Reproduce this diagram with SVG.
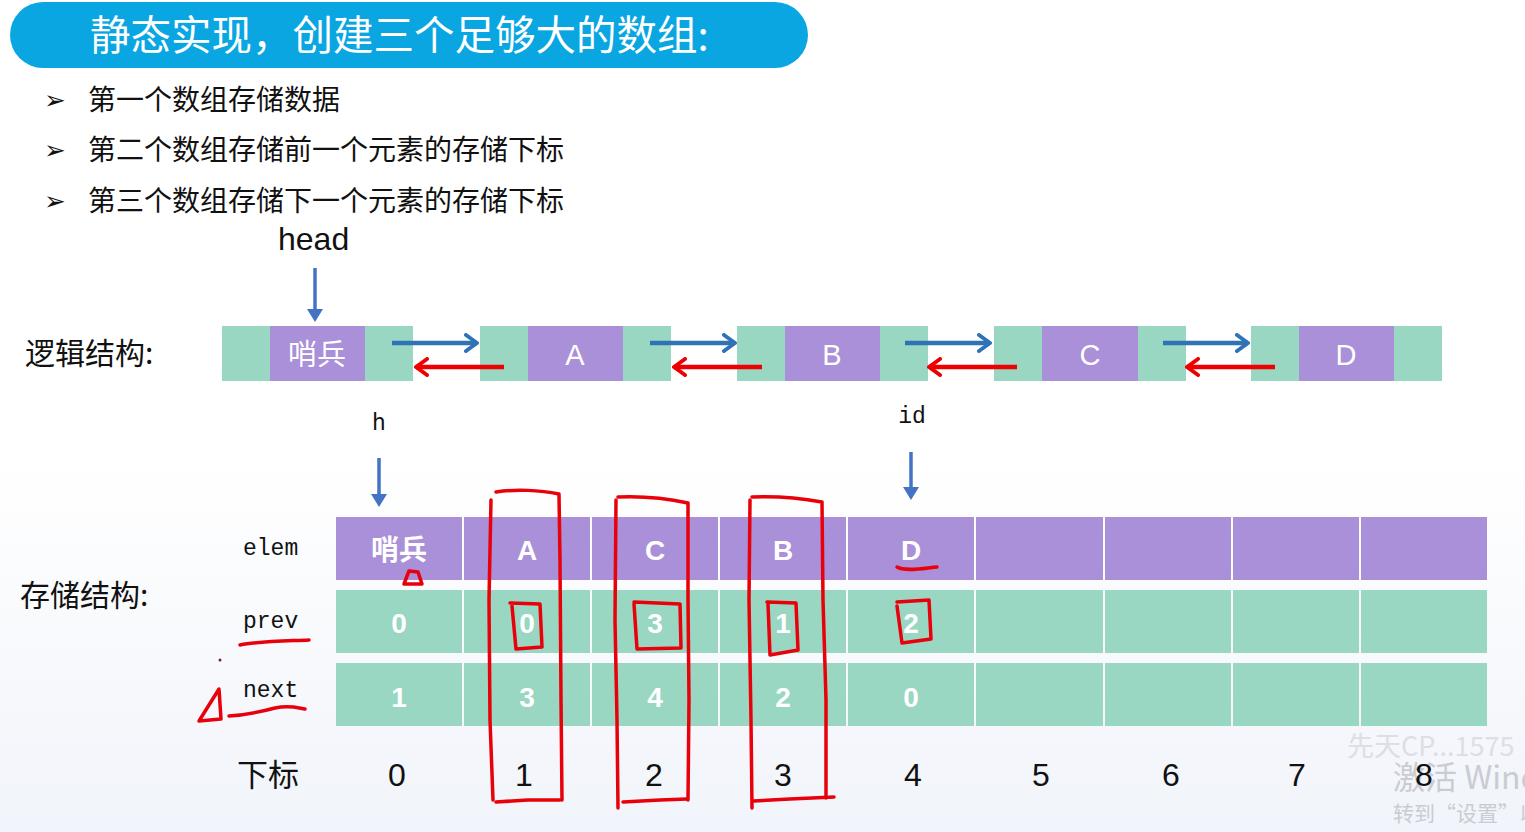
<svg xmlns="http://www.w3.org/2000/svg" width="1525" height="832" viewBox="0 0 1525 832">
<defs>
<linearGradient id="bg" x1="0" y1="0" x2="0" y2="1">
<stop offset="0" stop-color="#ffffff"/>
<stop offset="0.55" stop-color="#ffffff"/>
<stop offset="1" stop-color="#f1f4fa"/>
</linearGradient>
<marker id="chevB" viewBox="0 0 16 20" refX="14" refY="10" markerWidth="16" markerHeight="20" markerUnits="userSpaceOnUse" orient="auto">
<path d="M3,2 L14,10 L3,18" fill="none" stroke="#2f72b6" stroke-width="4" stroke-linecap="round" stroke-linejoin="round"/>
</marker>
<marker id="chevR" viewBox="0 0 16 20" refX="14" refY="10" markerWidth="16" markerHeight="20" markerUnits="userSpaceOnUse" orient="auto">
<path d="M3,2 L14,10 L3,18" fill="none" stroke="#ee0000" stroke-width="4" stroke-linecap="round" stroke-linejoin="round"/>
</marker>
</defs>
<style>
.cjk{font-family:"Noto Sans CJK SC","Noto Sans",sans-serif;}
.lat{font-family:"Liberation Sans",Arial,sans-serif;}
.mono{font-family:"Liberation Mono","DejaVu Sans Mono",monospace;font-size:23px;fill:#111;}
.pur{fill:#a990d8;}
.grn{fill:#9ad7c3;}
.wt{fill:#ffffff;text-anchor:middle;}
.cell{font-family:"Liberation Sans","Noto Sans CJK SC",sans-serif;font-weight:bold;font-size:28px;fill:#fff;text-anchor:middle;}
.idx{font-family:"Liberation Sans",Arial,sans-serif;font-size:32px;fill:#111;text-anchor:middle;}
.ab{stroke:#2f72b6;stroke-width:4.5;fill:none;marker-end:url(#chevB);}
.ar{stroke:#ee0000;stroke-width:4.5;fill:none;marker-end:url(#chevR);}
.down{stroke:#4472c4;stroke-width:3.5;fill:none;}
.pen{stroke:#e8000b;stroke-width:3.5;fill:none;stroke-linecap:round;stroke-linejoin:round;}
.wm{fill:#c9ccd3;}
.bul{font-family:"DejaVu Sans",sans-serif;font-size:26px;fill:#111;}
</style>
<rect x="0" y="0" width="1525" height="832" fill="url(#bg)"/>

<g id="title">
<rect x="10" y="2" width="798" height="66" rx="33" fill="#0aa6e2"/>
<text x="90" y="50" class="cjk" font-size="40.5" fill="#ffffff">静态实现，创建三个足够大的数组:</text>
</g>

<g id="bullets" class="cjk" font-size="28" fill="#111">
<text x="44" y="109" class="bul">➢</text>
<text x="88" y="110">第一个数组存储数据</text>
<text x="44" y="159" class="bul">➢</text>
<text x="88" y="160">第二个数组存储前一个元素的存储下标</text>
<text x="44" y="210" class="bul">➢</text>
<text x="88" y="211">第三个数组存储下一个元素的存储下标</text>
</g>

<g id="labels">
<text x="278" y="250" class="lat" font-size="32" fill="#111">head</text>
<text x="25" y="364" class="cjk" font-size="30" fill="#111">逻辑结构:</text>
<text x="20" y="606" class="cjk" font-size="30" fill="#111">存储结构:</text>
<text x="379" y="430" class="mono" text-anchor="middle">h</text>
<text x="912" y="423" class="mono" text-anchor="middle">id</text>
<text x="243" y="555" class="mono">elem</text>
<text x="243" y="628" class="mono">prev</text>
<text x="243" y="697" class="mono">next</text>
<text x="237" y="786" class="cjk" font-size="31" fill="#111">下标</text>
</g>

<g id="lnode-sentinel">
<rect x="222" y="326" width="48" height="55" class="grn"/>
<rect x="270" y="326" width="95" height="55" class="pur"/>
<rect x="365" y="326" width="48" height="55" class="grn"/>
<text x="317" y="365" class="cjk wt" font-size="29">哨兵</text>
</g>
<g id="lnode-A">
<rect x="480" y="326" width="48" height="55" class="grn"/>
<rect x="528" y="326" width="95" height="55" class="pur"/>
<rect x="623" y="326" width="48" height="55" class="grn"/>
<text x="575" y="365" class="lat wt" font-size="29">A</text>
</g>
<g id="lnode-B">
<rect x="737" y="326" width="48" height="55" class="grn"/>
<rect x="785" y="326" width="95" height="55" class="pur"/>
<rect x="880" y="326" width="48" height="55" class="grn"/>
<text x="832" y="365" class="lat wt" font-size="29">B</text>
</g>
<g id="lnode-C">
<rect x="994" y="326" width="48" height="55" class="grn"/>
<rect x="1042" y="326" width="96" height="55" class="pur"/>
<rect x="1138" y="326" width="48" height="55" class="grn"/>
<text x="1090" y="365" class="lat wt" font-size="29">C</text>
</g>
<g id="lnode-D">
<rect x="1251" y="326" width="48" height="55" class="grn"/>
<rect x="1299" y="326" width="95" height="55" class="pur"/>
<rect x="1394" y="326" width="48" height="55" class="grn"/>
<text x="1346" y="365" class="lat wt" font-size="29">D</text>
</g>

<g id="storage">
<g id="col0">
<rect x="336" y="517" width="126" height="63" class="pur"/>
<rect x="336" y="590" width="126" height="63" class="grn"/>
<rect x="336" y="663" width="126" height="63" class="grn"/>
<text x="399" y="560" class="cell" font-family="Noto Sans CJK SC">哨兵</text>
<text x="399" y="633" class="cell">0</text>
<text x="399" y="707" class="cell">1</text>
</g>
<g id="col1">
<rect x="464" y="517" width="126" height="63" class="pur"/>
<rect x="464" y="590" width="126" height="63" class="grn"/>
<rect x="464" y="663" width="126" height="63" class="grn"/>
<text x="527" y="560" class="cell">A</text>
<text x="527" y="633" class="cell">0</text>
<text x="527" y="707" class="cell">3</text>
</g>
<g id="col2">
<rect x="592" y="517" width="126" height="63" class="pur"/>
<rect x="592" y="590" width="126" height="63" class="grn"/>
<rect x="592" y="663" width="126" height="63" class="grn"/>
<text x="655" y="560" class="cell">C</text>
<text x="655" y="633" class="cell">3</text>
<text x="655" y="707" class="cell">4</text>
</g>
<g id="col3">
<rect x="720" y="517" width="126" height="63" class="pur"/>
<rect x="720" y="590" width="126" height="63" class="grn"/>
<rect x="720" y="663" width="126" height="63" class="grn"/>
<text x="783" y="560" class="cell">B</text>
<text x="783" y="633" class="cell">1</text>
<text x="783" y="707" class="cell">2</text>
</g>
<g id="col4">
<rect x="848" y="517" width="126" height="63" class="pur"/>
<rect x="848" y="590" width="126" height="63" class="grn"/>
<rect x="848" y="663" width="126" height="63" class="grn"/>
<text x="911" y="560" class="cell">D</text>
<text x="911" y="633" class="cell">2</text>
<text x="911" y="707" class="cell">0</text>
</g>
<g id="col5">
<rect x="976" y="517" width="127" height="63" class="pur"/>
<rect x="976" y="590" width="127" height="63" class="grn"/>
<rect x="976" y="663" width="127" height="63" class="grn"/>
</g>
<g id="col6">
<rect x="1105" y="517" width="126" height="63" class="pur"/>
<rect x="1105" y="590" width="126" height="63" class="grn"/>
<rect x="1105" y="663" width="126" height="63" class="grn"/>
</g>
<g id="col7">
<rect x="1233" y="517" width="126" height="63" class="pur"/>
<rect x="1233" y="590" width="126" height="63" class="grn"/>
<rect x="1233" y="663" width="126" height="63" class="grn"/>
</g>
<g id="col8">
<rect x="1361" y="517" width="126" height="63" class="pur"/>
<rect x="1361" y="590" width="126" height="63" class="grn"/>
<rect x="1361" y="663" width="126" height="63" class="grn"/>
</g>
</g>

<g id="indices">
<text x="397" y="786" class="idx">0</text>
<text x="524" y="786" class="idx">1</text>
<text x="654" y="786" class="idx">2</text>
<text x="783" y="786" class="idx">3</text>
<text x="913" y="786" class="idx">4</text>
<text x="1041" y="786" class="idx">5</text>
<text x="1171" y="786" class="idx">6</text>
<text x="1297" y="786" class="idx">7</text>
</g>

<g id="watermark" class="cjk">
<text x="1347" y="756" font-size="27" class="wm" opacity="0.55">先天CP...1575</text>
<text x="1393" y="789" font-size="32" class="wm">激活 Windows</text>
<text x="1393" y="821" font-size="21" class="wm">转到“设置”以激活</text>
<text x="1424" y="786" class="idx">8</text>
</g>

<g id="connectors">
<line x1="315" y1="268" x2="315" y2="312" class="down"/>
<path d="M307,309 L323,309 L315,322 Z" fill="#4472c4"/>
<line x1="379" y1="458" x2="379" y2="496" class="down"/>
<path d="M371,494 L387,494 L379,507 Z" fill="#4472c4"/>
<line x1="911" y1="452" x2="911" y2="489" class="down"/>
<path d="M903,487 L919,487 L911,500 Z" fill="#4472c4"/>
<line x1="392" y1="343" x2="477" y2="343" class="ab"/>
<line x1="504" y1="367" x2="416" y2="367" class="ar"/>
<line x1="650" y1="343" x2="735" y2="343" class="ab"/>
<line x1="762" y1="367" x2="674" y2="367" class="ar"/>
<line x1="905" y1="343" x2="990" y2="343" class="ab"/>
<line x1="1017" y1="367" x2="929" y2="367" class="ar"/>
<line x1="1163" y1="343" x2="1248" y2="343" class="ab"/>
<line x1="1275" y1="367" x2="1187" y2="367" class="ar"/>
</g>

<g id="annotations">
<path class="pen" d="M496,492 C515,489 540,490 559,494 L560,560 L561,700 L562,800"/>
<path class="pen" d="M491,500 L489,600 L490,720 L493,800"/>
<path class="pen" d="M496,802 L528,800 L560,800"/>
<path class="pen" d="M618,497 C640,496 665,498 688,503 L688,600 L689,700 L688,800"/>
<path class="pen" d="M616,500 L615,620 L617,720 L618,808"/>
<path class="pen" d="M623,802 L660,800 L687,799"/>
<path class="pen" d="M752,497 C775,496 800,498 822,502 L823,600 L826,700 L826,798"/>
<path class="pen" d="M750,500 L749,600 L751,720 L752,808"/>
<path class="pen" d="M753,801 L790,799 L834,797"/>
<path class="pen" d="M510,603 L540,604 L542,647 L516,649 L512,606"/>
<path class="pen" d="M634,602 L680,604 L681,648 L637,649 L634,604"/>
<path class="pen" d="M767,602 L796,603 L798,650 L770,655 L768,604"/>
<path class="pen" d="M897,602 L929,600 L931,639 L902,643 L897,606"/>
<path class="pen" d="M897,567 C905,572 925,568 937,567"/>
<path class="pen" d="M409,571 L404,584 L422,584 L418,572 Z"/>
<path class="pen" d="M240,645 C260,641 290,641 309,640"/>
<path class="pen" d="M229,716 C245,715 260,712 275,708 C290,705 298,708 305,709"/>
<path class="pen" d="M219,689 L199,721 L221,719 Z"/>
<circle cx="220" cy="660" r="1.5" fill="#7a2030"/>
</g>
</svg>
